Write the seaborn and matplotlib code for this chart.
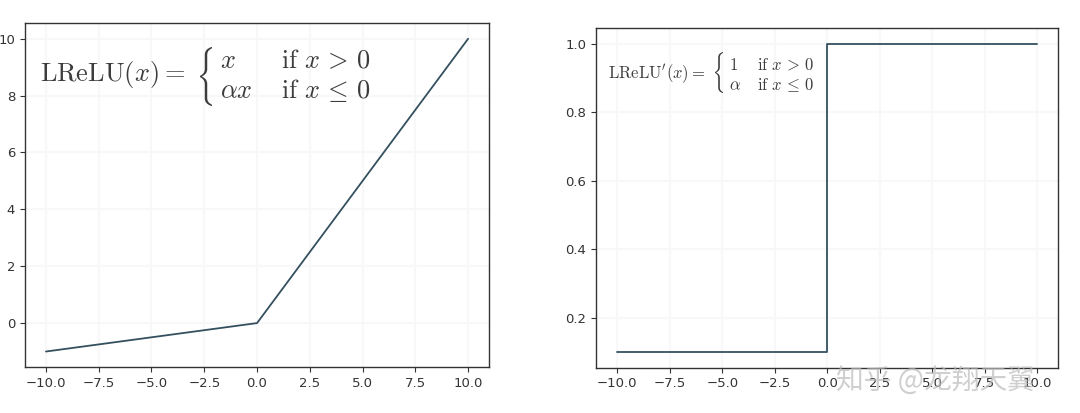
import numpy as np
import pandas as pd
import matplotlib
matplotlib.use("Agg")
import matplotlib.pyplot as plt
import seaborn as sns
from matplotlib.textpath import TextPath
from matplotlib.patches import PathPatch
from matplotlib.transforms import Affine2D, IdentityTransform

# datos
alpha = 0.1
x_lrelu = [-10.0, 0.0, 10.0]
y_lrelu = [-1.0, 0.0, 10.0]
x_deriv = [-10.0, 0.0, 0.0, 10.0]
y_deriv = [0.1, 0.1, 1.0, 1.0]
x_ticks = [-10.0, -7.5, -5.0, -2.5, 0.0, 2.5, 5.0, 7.5, 10.0]
y_ticks_left = [0, 2, 4, 6, 8, 10]
y_ticks_right = [0.2, 0.4, 0.6, 0.8, 1.0]
watermark = "知乎 @龙翔天翼"

W, H = 1080, 413

sns.set_style("ticks")
plt.rcParams['font.family'] = ['DejaVu Sans', 'Noto Sans CJK SC']
plt.rcParams['mathtext.fontset'] = 'cm'
plt.rcParams['axes.edgecolor'] = '#333333'
plt.rcParams['axes.linewidth'] = 1.0
plt.rcParams['xtick.color'] = '#333333'
plt.rcParams['ytick.color'] = '#333333'

line_color = '#34505f'
txt_color = '#3c3c3c'

fig = plt.figure(figsize=(W / 100, H / 100), dpi=100)
ax1 = fig.add_axes([0.023, 0.111, 0.430, 0.833])
ax2 = fig.add_axes([0.552, 0.110, 0.428, 0.821])

df1 = pd.DataFrame({'x': x_lrelu, 'y': y_lrelu})
sns.lineplot(data=df1, x='x', y='y', ax=ax1, color=line_color, lw=1.3,
             sort=False, estimator=None)

df2 = pd.DataFrame({'x': x_deriv, 'y': y_deriv})
sns.lineplot(data=df2, x='x', y='y', ax=ax2, color=line_color, lw=1.3,
             sort=False, estimator=None)

for ax, yt in [(ax1, y_ticks_left), (ax2, y_ticks_right)]:
    ax.set_xticks(x_ticks)
    ax.set_yticks(yt)
    ax.set_xlabel('')
    ax.set_ylabel('')
    ax.tick_params(labelsize=9.5, length=3.5)
    ax.grid(True, color='#f8f8f8', lw=1.5)
    ax.set_axisbelow(True)
    for s in ax.spines.values():
        s.set_visible(True)

ax1.set_xlim(-11, 11)
ax1.set_ylim(-1.55, 10.55)
ax2.set_xlim(-11, 11)
ax2.set_ylim(0.055, 1.045)
ax1.set_yticklabels([str(v) for v in y_ticks_left])


# texto en pixeles (desde arriba a la izquierda)
def put(x, y, s, size):
    fig.text(x / W, 1 - y / H, s, fontsize=size, color=txt_color,
             ha='left', va='baseline')


# llave estirada: left, top, bottom, ancho en pixeles
def brace(x, top, bottom, width):
    tp = TextPath((0, 0), r"$\{$", size=100)
    ext = tp.get_extents()
    tr = (Affine2D().translate(-ext.x0, -ext.y0)
          .scale(width / ext.width, (bottom - top) / ext.height)
          .translate(x, H - bottom))
    fig.add_artist(PathPatch(tr.transform_path(tp), transform=IdentityTransform(),
                             fc=txt_color, ec='none'))


# formula izquierda
put(40, 81, r"$\mathrm{LReLU}(x) =$", 19)
brace(200, 47, 106, 12)
put(220, 68, r"$x$", 19)
put(220, 98, r"$\alpha x$", 19)
put(281, 68, r"$\mathrm{if}\ x \,>\, 0$", 19)
put(281, 98, r"$\mathrm{if}\ x \,\leq\, 0$", 19)

# formula derecha
put(608, 78, r"$\mathrm{LReLU}'(x) =$", 12)
brace(715, 52, 93, 8)
put(729, 70, r"$1$", 12)
put(729, 90, r"$\alpha$", 12)
put(757, 70, r"$\mathrm{if}\ x \,>\, 0$", 12)
put(757, 90, r"$\mathrm{if}\ x \,\leq\, 0$", 12)

fig.text(0.866, 0.078, watermark, fontsize=20, color='#bbbbbb', alpha=0.7,
         ha='center', va='center', family=['Noto Sans CJK SC', 'DejaVu Sans'])

fig.savefig('out.png', dpi=100)
plt.close()
